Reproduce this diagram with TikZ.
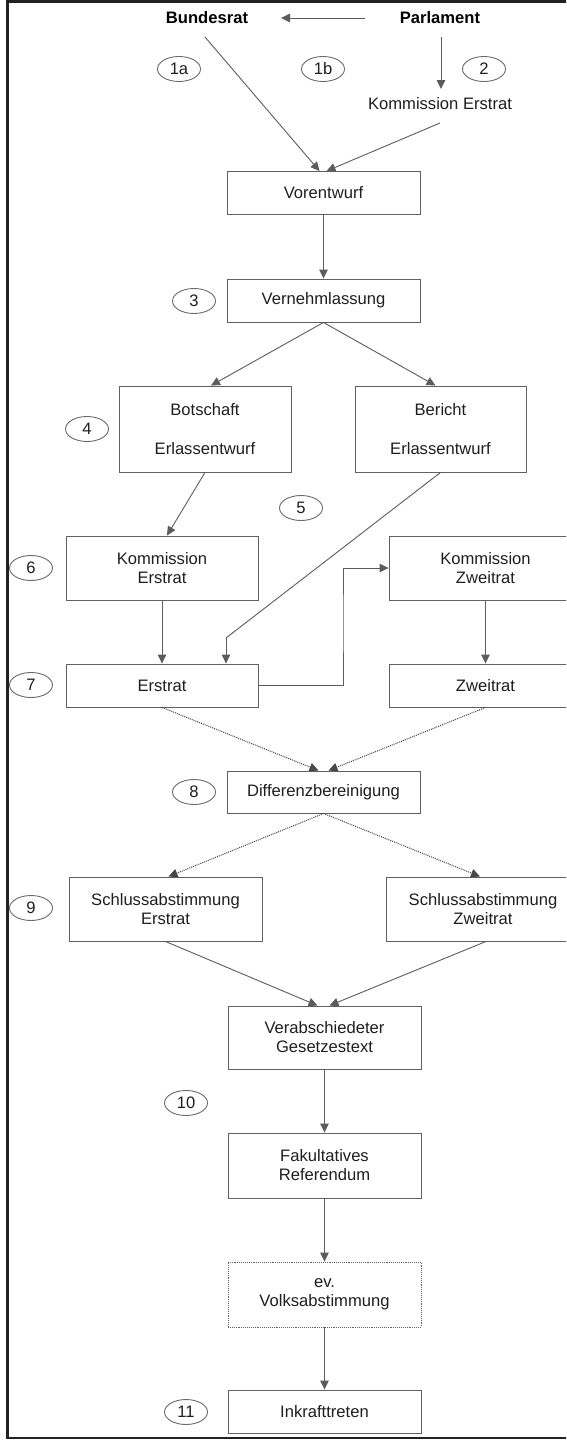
\documentclass[tikz,border=0pt]{standalone}
\usepackage{fontspec}
\setmainfont{Liberation Sans}
\usetikzlibrary{arrows.meta,shapes.geometric}

\begin{document}
\begin{tikzpicture}[x=1pt,y=-1pt,
  font=\fontsize{16.6}{19}\selectfont,
  box/.style={draw=black!62, line width=0.9pt, rectangle, align=center, text=black!88, inner sep=2pt, minimum width=193pt, minimum height=43pt},
  nummer/.style={draw=black!58, line width=0.9pt, ellipse, inner sep=0pt, minimum width=43pt, minimum height=25pt, text=black!88},
  pfeil/.style={draw=black!64, line width=0.9pt, -{Triangle[width=8.5pt,length=9pt]}},
  punkt/.style={pfeil, draw=black!72, line width=1pt, densely dotted}]
\definecolor{rahmen}{HTML}{222222}
\useasboundingbox (0,0) rectangle (566,1440);
\clip (0,0) rectangle (566,1440);
\fill[white] (0,0) rectangle (566,1440);
\draw[rahmen, line width=2.2pt] (570,1.5) -- (7.5,1.5) -- (7.5,1438) -- (570,1438);

% Initiative
\node[font=\fontsize{16.6}{19}\selectfont\bfseries] (br) at (207,18) {Bundesrat};
\node[font=\fontsize{16.6}{19}\selectfont\bfseries] (pa) at (440,18) {Parlament};
\node[text=black!88] (ke) at (440,104) {Kommission Erstrat};
\coordinate (pal) at (365,18);
\coordinate (brr) at (281,18);
\coordinate (bru) at (205,37);
\coordinate (pau) at (441,37);
\coordinate (keo) at (441,89);
\coordinate (keu) at (440,123);

\node[nummer] (n1a) at (179,69) {1a};
\node[nummer] (n1b) at (323,69) {1b};
\node[nummer] (n2) at (484,69) {2};

% Vorverfahren
\node[box] (vor) at (323.5,193) {Vorentwurf};
\node[box] (ver) at (323.5,300.5) {Vernehmlassung};
\node[nummer] (n3) at (194,301) {3};

\node[box, minimum width=172pt, minimum height=86pt] (bot) at (205,429) {Botschaft\\[20pt]Erlassentwurf};
\node[box, minimum width=171pt, minimum height=86pt] (ber) at (440.5,429) {Bericht\\[20pt]Erlassentwurf};
\node[nummer] (n4) at (87,429) {4};
\node[nummer] (n5) at (301,508) {5};

% Beratung
\node[box, minimum width=192pt, minimum height=64pt] (kem) at (162,568) {Kommission\\Erstrat};
\node[box, minimum height=64pt] (kzw) at (485.5,568) {Kommission\\Zweitrat};
\node[nummer] (n6) at (31,568) {6};

\node[box, minimum width=192pt] (ers) at (162,685.5) {Erstrat};
\node[box] (zwe) at (485.5,685.5) {Zweitrat};
\node[nummer] (n7) at (31,685) {7};

\node[box, minimum height=42pt] (dif) at (323.5,792) {Differenzbereinigung};
\node[nummer] (n8) at (194,792) {8};

\node[box, minimum height=64pt] (sle) at (165.5,909) {Schlussabstimmung\\Erstrat};
\node[box, minimum height=64pt] (slz) at (483,909) {Schlussabstimmung\\Zweitrat};
\node[nummer] (n9) at (31,908) {9};

% Abschluss
\node[box, minimum height=63pt] (ges) at (324.5,1037.5) {Verabschiedeter\\Gesetzestext};
\node[nummer] (n10) at (186,1103) {10};
\node[box, minimum height=65pt] (ref) at (324.5,1165.5) {Fakultatives\\Referendum};
\node[box, minimum height=65pt, densely dotted] (vab) at (324.5,1294.5) {ev.\\Volksabstimmung};
\node[box] (ink) at (324.5,1411.5) {Inkrafttreten};
\node[nummer] (n11) at (186,1412) {11};

\coordinate (knick) at (226,638);
\coordinate (ecke) at (343,620);

\draw[pfeil] (pal) -- (brr);
\draw[pfeil] (pau) -- (keo);
\draw[pfeil] (bru) -- ([xshift=-4pt]vor.north);
\draw[pfeil] (keu) -- ([xshift=3pt]vor.north);
\draw[pfeil] (vor) -- (ver);
\draw[pfeil] (ver.south) -- ([xshift=6pt]bot.north);
\draw[pfeil] (ver.south) -- ([xshift=-5pt]ber.north);
\draw[pfeil] (bot.south) -- ([xshift=5pt]kem.north);
\draw[draw=black!64, line width=0.9pt] (ber.south) -- (knick);
\draw[pfeil] (knick) -- (knick |- ers.north);
\draw[pfeil] (kem) -- (ers);
\draw[pfeil] (ers.east) -| (ecke) |- (kzw.west);
\draw[pfeil] (kzw) -- (zwe);
\draw[punkt] (ers.south) -- ([xshift=-5pt]dif.north);
\draw[punkt] (zwe.south) -- ([xshift=5pt]dif.north);
\draw[punkt] (dif.south) -- ([xshift=3pt]sle.north);
\draw[punkt] (dif.south) -- ([xshift=-3pt]slz.north);
\draw[pfeil] (sle.south) -- ([xshift=-7pt]ges.north);
\draw[pfeil] ([xshift=3pt]slz.south) -- ([xshift=5pt]ges.north);
\draw[pfeil] (ges) -- (ref);
\draw[pfeil] (ref) -- (vab);
\draw[pfeil] (vab) -- (ink);

\end{tikzpicture}
\end{document}
